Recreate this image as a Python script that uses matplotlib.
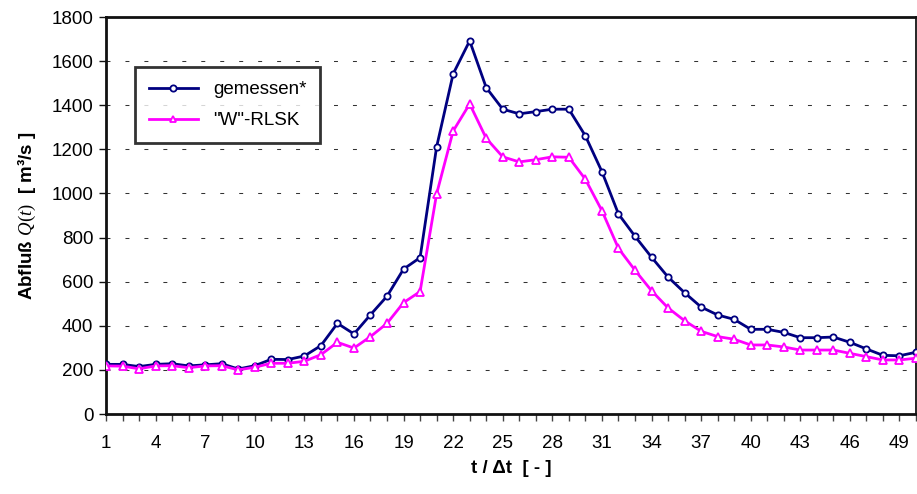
import matplotlib.pyplot as plt
import numpy as np

plt.rcParams['font.family'] = ['Liberation Sans', 'DejaVu Sans']
plt.rcParams['mathtext.fontset'] = 'custom'
plt.rcParams['mathtext.it'] = 'Liberation Serif:italic'
plt.rcParams['mathtext.rm'] = 'Liberation Serif'

# time steps 1..50
t = np.arange(1, 51)

gemessen = [225, 225, 215, 225, 228, 218, 223, 228, 204, 219,
            248, 247, 263, 310, 411, 363, 450, 534, 657, 709,
            1211, 1542, 1692, 1480, 1382, 1361, 1371, 1382, 1382, 1261,
            1099, 907, 806, 711, 621, 550, 485, 449, 429, 384,
            384, 370, 346, 346, 349, 325, 295, 266, 264, 280]

rlsk = [218, 217, 205, 218, 219, 210, 218, 219, 200, 212,
        230, 230, 239, 269, 325, 299, 351, 411, 505, 555,
        998, 1283, 1406, 1250, 1166, 1143, 1153, 1166, 1164, 1064,
        922, 751, 652, 559, 481, 423, 375, 351, 339, 313,
        313, 304, 290, 290, 290, 275, 260, 245, 245, 253]

xticks = list(range(1, 50, 3))
yticks = list(range(0, 1801, 200))

fig = plt.figure(figsize=(9.17, 4.94), dpi=100)
ax = fig.add_axes([106/917, 1 - 414/494, (916-106)/917, (414-17)/494])

ax.plot(t, gemessen, color='#000080', lw=2, marker='o', ms=4.5,
        mfc='white', mec='#000080', mew=1.3, label='gemessen*', zorder=3)
ax.plot(t, rlsk, color='#FF00FF', lw=2, marker='^', ms=6,
        mfc='white', mec='#FF00FF', mew=1.3, label='"W"-RLSK', zorder=3)

ax.set_xlim(1, 50)
ax.set_ylim(0, 1800)
ax.set_xticks(t, minor=False)
ax.set_xticklabels([str(v) if v in xticks else '' for v in t])
ax.set_yticks(yticks)

ax.yaxis.grid(True, color='#333333', lw=0.75, linestyle=(0, (3.8, 14.4)))
ax.set_axisbelow(True)

for side in ['left', 'bottom', 'top']:
    ax.spines[side].set_linewidth(2)
    ax.spines[side].set_color('#111111')
ax.spines['right'].set_linewidth(1.2)
ax.spines['right'].set_color('black')

ax.tick_params(axis='x', direction='out', length=5, width=1, color='#444444',
               labelsize=13.5, pad=10)
ax.tick_params(axis='y', direction='out', length=5, width=1, color='#111111',
               labelsize=13.5, pad=4)

ax.set_xlabel('t / Δt  [ - ]', fontsize=13.5, fontweight='bold', labelpad=6)
ax.set_ylabel(r'Abfluß $\mathit{Q(t)}$  [ m³/s ]', fontsize=13.5,
              fontweight='bold', labelpad=10)

leg = ax.legend(loc='upper left', bbox_to_anchor=((135-106)/810, (414-67)/397),
                fontsize=13.5, frameon=True, fancybox=False, borderpad=0.75,
                labelspacing=0.75, handlelength=2.6, handletextpad=0.8,
                borderaxespad=0)
leg.get_frame().set_edgecolor('black')
leg.get_frame().set_linewidth(2)
for h in leg.legend_handles:
    h.set_markersize(4.5)

fig.savefig('out.png', dpi=100)
